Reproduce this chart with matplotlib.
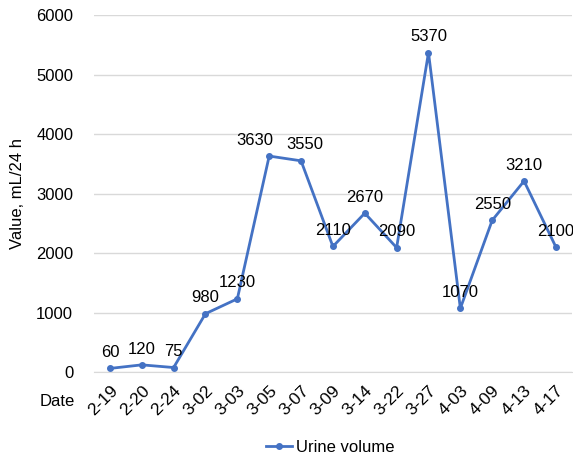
import matplotlib
matplotlib.use("Agg")
import matplotlib.pyplot as plt

dates = ["2-19", "2-20", "2-24", "3-02", "3-03", "3-05", "3-07", "3-09", "3-14",
         "3-22", "3-27", "4-03", "4-09", "4-13", "4-17"]
urine = [60, 120, 75, 980, 1230, 3630, 3550, 2110, 2670, 2090, 5370, 1070, 2550, 3210, 2100]

plt.rcParams['font.family'] = ['Liberation Sans', 'DejaVu Sans']
color = "#4472C4"
fs = 12
label_dx = {5: -10, 6: 3}  # label nudges in points (style only)

fig = plt.figure(figsize=(5.73, 4.57), dpi=100)
ax = fig.add_axes([0.164, 0.186, 0.834, 0.781])
x = list(range(len(dates)))
ax.plot(x, urine, color=color, lw=2, marker='o', ms=4, label="Urine volume", clip_on=False)
for i, (xi, v) in enumerate(zip(x, urine)):
    ax.annotate(str(v), (xi, v), xytext=(label_dx.get(i, 0), 6), textcoords='offset points',
                ha='center', va='bottom', fontsize=fs, color='#000000', annotation_clip=False)
ax.set_xlim(-0.5, len(dates) - 0.5)
ax.set_ylim(0, 6000)
ax.set_yticks(range(0, 6001, 1000))
ax.set_xticks(x)
ax.set_xticklabels(dates, rotation=45, ha='right', rotation_mode='anchor', fontsize=12.5)
ax.tick_params(axis='y', labelsize=fs, length=0, pad=15)
ax.tick_params(axis='x', length=0, pad=8)
ax.grid(axis='y', color='#d9d9d9', lw=1)
ax.set_axisbelow(True)
for s in ['top', 'right', 'left']:
    ax.spines[s].set_visible(False)
ax.spines['bottom'].set_color('#d9d9d9')
ax.set_ylabel("Value, mL/24 h", fontsize=fs)
ax.yaxis.set_label_coords(-0.145, 0.5)
fig.text(40 / 573, 1 - 402 / 457, "Date", fontsize=fs, va='center', ha='left')
fig.legend(loc='center', bbox_to_anchor=(0.576, 1 - 447 / 457), frameon=False, fontsize=fs,
           handlelength=1.6, handletextpad=0.2)
fig.savefig("out.png", dpi=100)
